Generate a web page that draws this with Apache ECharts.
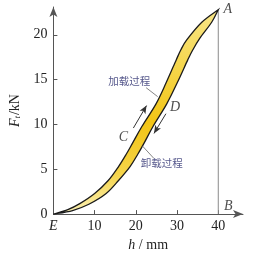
<!DOCTYPE html>
<html><head><meta charset="utf-8">
<script src="https://cdn.jsdelivr.net/npm/echarts@6/dist/echarts.min.js"></script>
<style>html,body{margin:0;padding:0;background:#fff}#c{width:254px;height:257px}</style>
</head><body><div id="c"></div>
<script>
// loading (upper) curve: h in mm, F in kN
const loadingH = [0, 3.5, 6.5, 10, 13.3, 15.8, 17.7, 19.3, 21.5, 24.9, 27.4, 29.8, 30.9, 32.3, 36, 40];
const loadingF = [0, 0.5, 1.2, 2.3, 3.75, 5.3, 6.7, 8.0, 9.8, 12.3, 14.7, 17.2, 18.3, 19.4, 21.4, 22.8];
// unloading (lower) curve
const unloadingH = [0, 4.65, 8.6, 12.8, 15.8, 18.6, 20.5, 22.1, 24.2, 27.5, 30.1, 32.6, 33.8, 35.5, 38.4, 40];
const unloadingF = [0, 0.4, 1.1, 2.3, 3.75, 5.3, 6.7, 8.0, 9.8, 12.3, 14.7, 17.2, 18.3, 19.6, 21.4, 22.8];
const xTicks = [0, 10, 20, 30, 40];
const yTicks = [0, 5, 10, 15, 20];
const pointA = [40, 22.8];
const pointB = [40, 0];
const letterNames = ['A', 'B', 'C', 'D'];
const letterPos = [[42.3, 22.8], [42.4, 0.9], [17.0, 8.6], [29.5, 11.9]];
const textNames = ['加载过程', '卸载过程'];
const textPos = [[18.4, 14.8], [26.3, 5.75]];
const arrowUp = [[19.4, 9.6], [22.6, 12.1]];
const arrowDown = [[27.3, 11.2], [24.4, 9.0]];
const leaderLoad = [[22.5, 14.1], [25.3, 13.1]];
const leaderUnload = [[21.6, 7.6], [24.4, 6.2]];

function bez(p) {
  let s = '';
  for (let i = 0; i < p.length - 1; i++) {
    const p0 = p[i - 1] || p[i], p1 = p[i], p2 = p[i + 1], p3 = p[i + 2] || p[i + 1];
    const c1 = [p1[0] + (p2[0] - p0[0]) / 6, p1[1] + (p2[1] - p0[1]) / 6];
    const c2 = [p2[0] - (p3[0] - p1[0]) / 6, p2[1] - (p3[1] - p1[1]) / 6];
    s += ' C' + c1[0] + ',' + c1[1] + ' ' + c2[0] + ',' + c2[1] + ' ' + p2[0] + ',' + p2[1];
  }
  return s;
}

const chart = echarts.init(document.getElementById('c'), null, { renderer: 'canvas' });
const serif = 'Liberation Serif';
const axisCol = '#555';
const fs = 14;

const scatterData = letterNames.map((n, i) => ({
  name: n, value: letterPos[i],
  label: { fontFamily: serif, fontStyle: 'italic', fontSize: fs, color: '#222' }
})).concat(textNames.map((n, i) => ({
  name: n, value: textPos[i],
  label: { fontFamily: 'Noto Sans CJK SC', fontSize: 10.5, color: '#2b2d6e' }
})));

chart.setOption({
  animation: false,
  grid: { left: 45, top: 7, right: 11, bottom: 41 },
  xAxis: {
    type: 'value', min: 0, max: 46,
    splitLine: { show: false },
    axisLine: { lineStyle: { color: axisCol, width: 1 }, symbol: ['none', 'arrow'], symbolSize: [6, 10] },
    axisTick: { inside: true, length: 4, customValues: xTicks, lineStyle: { color: axisCol } },
    axisLabel: {
      customValues: xTicks, margin: 5, fontFamily: serif, fontSize: fs, color: '#222',
      formatter: v => v === 0 ? '{e|E}' : String(v),
      rich: { e: { fontFamily: serif, fontStyle: 'italic', fontSize: fs, color: '#222' } }
    },
    name: '{h|h} / mm', nameLocation: 'middle', nameGap: 23,
    nameTextStyle: {
      fontFamily: serif, fontSize: fs, color: '#222',
      rich: { h: { fontFamily: serif, fontStyle: 'italic', fontSize: fs, color: '#222' } }
    }
  },
  yAxis: {
    type: 'value', min: 0, max: 23.1,
    splitLine: { show: false },
    axisLine: { lineStyle: { color: axisCol, width: 1 }, symbol: ['none', 'arrow'], symbolSize: [6, 10] },
    axisTick: { inside: true, length: 4, customValues: yTicks, lineStyle: { color: axisCol } },
    axisLabel: { customValues: yTicks, margin: 6, fontFamily: serif, fontSize: fs, color: '#222' },
    name: '{f|F}{s|t}{n|/kN}', nameLocation: 'middle', nameGap: 25, nameRotate: 90,
    nameTextStyle: {
      fontFamily: serif, fontSize: fs, color: '#222',
      rich: {
        f: { fontFamily: serif, fontStyle: 'italic', fontSize: fs, color: '#222' },
        s: { fontFamily: serif, fontStyle: 'italic', fontSize: 9, color: '#222', padding: [6, 1, 0, 0] },
        n: { fontFamily: serif, fontSize: fs, color: '#222' }
      }
    }
  },
  series: [
    {
      type: 'line', data: [pointB, pointA], symbol: 'none',
      lineStyle: { color: '#8a8a8a', width: 1 }, z: 1
    },
    {
      type: 'custom', clip: false, z: 3,
      data: [[0, 0]],
      renderItem: (params, api) => {
        const up = loadingH.map((h, i) => api.coord([h, loadingF[i]]));
        const lo = unloadingH.map((h, i) => api.coord([h, unloadingF[i]])).reverse();
        const d = 'M' + up[0][0] + ',' + up[0][1] + bez(up) + bez(lo) + ' Z';
        return {
          type: 'path',
          shape: { pathData: d },
          style: {
            fill: new echarts.graphic.LinearGradient(0, 0, 0, 1, [
              { offset: 0, color: '#f7e588' },
              { offset: 0.3, color: '#f5d548' },
              { offset: 0.55, color: '#f3c515' },
              { offset: 0.8, color: '#f5d449' },
              { offset: 1, color: '#fbf1b8' }
            ]),
            stroke: '#1b1b1b', lineWidth: 1.3, lineJoin: 'miter'
          }
        };
      }
    },
    {
      type: 'scatter', symbolSize: 0, z: 5,
      data: scatterData,
      label: { show: true, position: 'inside', formatter: p => p.name },
      markLine: {
        silent: true, symbol: ['none', 'arrow'], symbolSize: [5, 8],
        label: { show: false },
        lineStyle: { color: '#333', width: 1, type: 'solid' },
        data: [
          [{ coord: arrowUp[0] }, { coord: arrowUp[1] }],
          [{ coord: arrowDown[0] }, { coord: arrowDown[1] }]
        ]
      }
    },
    {
      type: 'scatter', symbolSize: 0, z: 4, data: [],
      markLine: {
        silent: true, symbol: ['none', 'none'],
        label: { show: false },
        lineStyle: { color: '#777', width: 0.9, type: 'solid' },
        data: [
          [{ coord: leaderLoad[0] }, { coord: leaderLoad[1] }],
          [{ coord: leaderUnload[0] }, { coord: leaderUnload[1] }]
        ]
      }
    }
  ]
});
</script></body></html>
